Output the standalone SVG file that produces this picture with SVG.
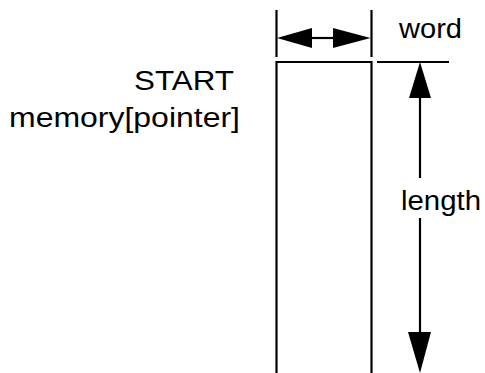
<svg xmlns="http://www.w3.org/2000/svg" width="485" height="373" viewBox="0 0 485 373">
  <style>
    .ln { stroke: #000; stroke-width: 2.2; fill: none; }
    .hd { fill: #000; stroke: none; }
    .tx { font-family: "Liberation Sans", Arial, sans-serif; font-size: 27px; fill: #000; }
  </style>
  <rect width="485" height="373" fill="#fff"/>

  <!-- memory block -->
  <g id="block">
    <path class="ln" d="M276.5,373 V62 H371.5 V373"/>
  </g>

  <!-- labels -->
  <g id="start-label">
    <text class="tx" x="234" y="90" text-anchor="end" textLength="100" lengthAdjust="spacingAndGlyphs">START</text>
    <text class="tx" x="240" y="127" text-anchor="end" textLength="231" lengthAdjust="spacingAndGlyphs">memory[pointer]</text>
  </g>
  <g id="word-label">
    <text class="tx" x="399" y="38" textLength="63" lengthAdjust="spacingAndGlyphs">word</text>
  </g>
  <g id="length-label">
    <text class="tx" x="401" y="210" textLength="80" lengthAdjust="spacingAndGlyphs">length</text>
  </g>

  <!-- dimension lines -->
  <g id="connectors">
    <!-- word width -->
    <line class="ln" x1="276.5" y1="10" x2="276.5" y2="57"/>
    <line class="ln" x1="371.5" y1="10" x2="371.5" y2="57"/>
    <line class="ln" x1="312" y1="38" x2="334" y2="38"/>
    <polygon class="hd" points="277,38 312,28 312,48"/>
    <polygon class="hd" points="370.5,38 333,28 333,48"/>
    <!-- length -->
    <line class="ln" x1="377" y1="62" x2="449" y2="62"/>
    <line class="ln" x1="420" y1="97" x2="420" y2="178"/>
    <line class="ln" x1="420" y1="218" x2="420" y2="334"/>
    <polygon class="hd" points="420,62 409,98 431,98"/>
    <polygon class="hd" points="420,373 408,332 431,332"/>
  </g>
</svg>
